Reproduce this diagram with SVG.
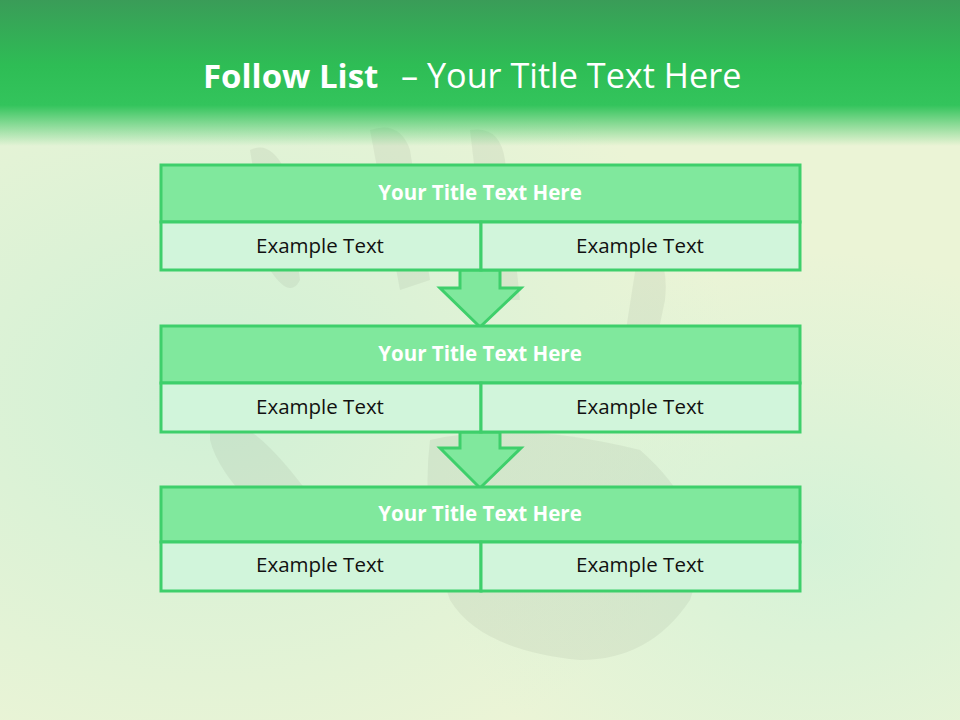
<svg xmlns="http://www.w3.org/2000/svg" width="960" height="720" viewBox="0 0 960 720">
<defs>
<linearGradient id="hdr" x1="0" y1="0" x2="0" y2="1">
<stop offset="0" stop-color="#3a9c58"/>
<stop offset="0.45" stop-color="#2ebd55"/>
<stop offset="0.72" stop-color="#33c45c"/>
<stop offset="1" stop-color="#33c45c" stop-opacity="0"/>
</linearGradient>
<radialGradient id="bgl" cx="0.22" cy="0.55" r="0.55">
<stop offset="0" stop-color="#cdf0d6" stop-opacity="0.9"/>
<stop offset="1" stop-color="#cdf0d6" stop-opacity="0"/>
</radialGradient>
<radialGradient id="bgr" cx="0.85" cy="0.75" r="0.4">
<stop offset="0" stop-color="#cff2d8" stop-opacity="0.8"/>
<stop offset="1" stop-color="#cff2d8" stop-opacity="0"/>
</radialGradient>
<style>
.title{fill:#80e89d;stroke:#3ecf6b;stroke-width:3}
.cell{fill:#d1f5db;stroke:#3ecf6b;stroke-width:3}
.arrow{fill:#80e89d;stroke:#3ecf6b;stroke-width:3;stroke-linejoin:miter}
.tt{font-family:"Open Sans","Liberation Sans",sans-serif;font-weight:bold;font-size:20.5px;fill:#ffffff;text-anchor:middle}
.ct{font-family:"Open Sans","Liberation Sans",sans-serif;font-size:20.5px;fill:#111111;text-anchor:middle}
.print{fill:#7d8a78;opacity:0.11}
.hd{font-family:"Open Sans","Liberation Sans",sans-serif;font-size:33px;fill:#ffffff}
.hd2{font-family:"Open Sans","Liberation Sans",sans-serif;font-size:34.2px;fill:#ffffff}
</style>
</defs>
<g id="background">
<rect x="0" y="0" width="960" height="720" fill="#ebf4d6"/>
<rect x="0" y="0" width="960" height="720" fill="url(#bgl)"/>
<rect x="0" y="0" width="960" height="720" fill="url(#bgr)"/>
<path class="print" d="M250 150 Q270 140 285 170 L300 280 Q290 300 270 270 Z"/>
<path class="print" d="M370 130 Q400 120 410 150 L430 280 L400 290 Z"/>
<path class="print" d="M470 130 Q500 125 505 160 L520 300 L490 300 Z"/>
<path class="print" d="M640 240 Q670 250 665 300 L640 420 L615 400 Z"/>
<path class="print" d="M210 420 Q240 410 290 470 L330 520 L280 530 Q220 480 210 440 Z"/>
<path class="print" d="M430 440 Q520 420 640 450 Q720 520 690 600 Q650 660 580 660 Q480 650 450 600 Q420 520 430 440 Z"/>
</g>
<g id="header">
<rect x="0" y="0" width="960" height="146" fill="url(#hdr)"/>
<text class="hd" x="203" y="88" font-weight="bold">Follow List</text>
<text class="hd2" x="401" y="88">– Your Title Text Here</text>
</g>
<g id="connectors">
<path class="arrow" d="M460 270 L500 270 L500 288 L521 288 L480 327 L440 288 L460 288 Z"/>
<path class="arrow" d="M460 432 L500 432 L500 448 L521 448 L480 488 L440 448 L460 448 Z"/>
</g>
<g id="node1">
<rect class="title" x="161" y="165" width="639" height="57"/>
<rect class="cell" x="161" y="222" width="320" height="48"/>
<rect class="cell" x="481" y="222" width="319" height="48"/>
<text class="tt" x="480" y="200">Your Title Text Here</text>
<text class="ct" x="320" y="253">Example Text</text>
<text class="ct" x="640" y="253">Example Text</text>
</g>
<g id="node2">
<rect class="title" x="161" y="326" width="639" height="57"/>
<rect class="cell" x="161" y="383" width="320" height="49"/>
<rect class="cell" x="481" y="383" width="319" height="49"/>
<text class="tt" x="480" y="361">Your Title Text Here</text>
<text class="ct" x="320" y="414">Example Text</text>
<text class="ct" x="640" y="414">Example Text</text>
</g>
<g id="node3">
<rect class="title" x="161" y="487" width="639" height="55"/>
<rect class="cell" x="161" y="542" width="320" height="49"/>
<rect class="cell" x="481" y="542" width="319" height="49"/>
<text class="tt" x="480" y="521">Your Title Text Here</text>
<text class="ct" x="320" y="572">Example Text</text>
<text class="ct" x="640" y="572">Example Text</text>
</g>
</svg>
